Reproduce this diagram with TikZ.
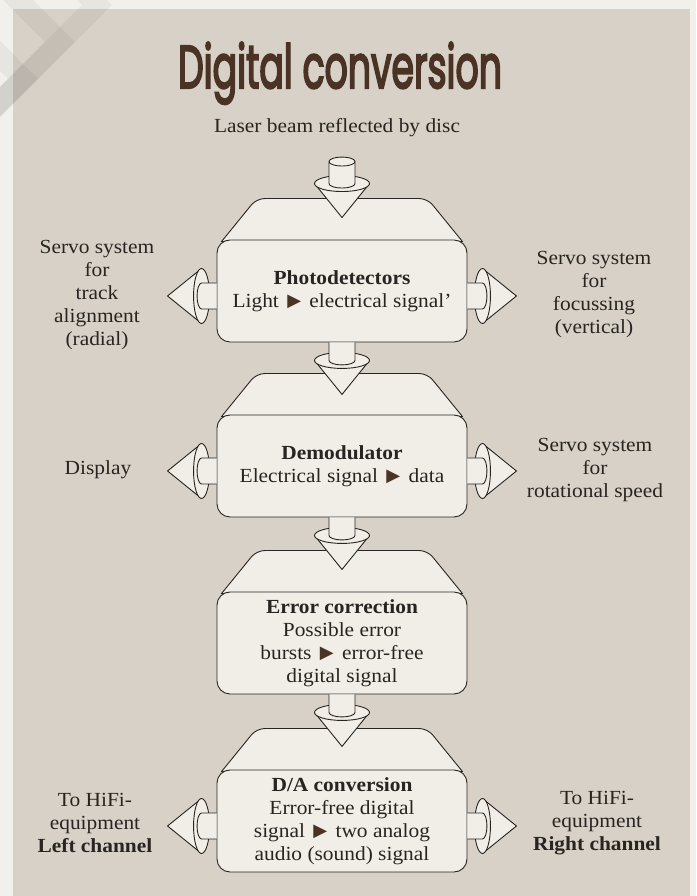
\documentclass[tikz,border=0pt]{standalone}
\usepackage{graphicx}
\usepackage{fontspec}
\setmainfont{Liberation Serif}[FakeStretch=1.07]
\newfontfamily\titlefont{Poppins}[FakeBold=4]
\newfontfamily\symfont{DejaVu Sans}
\usetikzlibrary{positioning, backgrounds}
\definecolor{pagegrey}{RGB}{242,240,235}
\definecolor{panelgrey}{RGB}{215,209,199}
\definecolor{cream}{RGB}{241,238,231}
\definecolor{ink}{RGB}{40,36,34}
\definecolor{titlebrown}{RGB}{74,50,36}
\newcommand{\tri}{\hspace*{3pt}{\symfont\color{titlebrown}\raisebox{0.5pt}{\scalebox{0.9}{▶}}}\hspace*{3pt}}

\begin{document}
\begin{tikzpicture}[x=1pt, y=1pt,
  part/.style={fill=cream, draw=ink, line width=0.9pt, line join=round},
  frontbox/.style={part, rounded corners=13pt, minimum width=250pt, minimum height=102pt, align=center, text=ink, font=\fontsize{20}{23}\selectfont},
  sidetext/.style={align=center, text=ink, font=\fontsize{20}{23}\selectfont},
  pics/cone/.style={code={
    \path[part] (-27.5,0) -- (0,-34) -- (27.5,0) -- cycle;
    \path[part] (0,0) ellipse [x radius=27.5, y radius=8];
    \path[part] (-13,#1) -- (-13,0) arc [start angle=180, end angle=360, x radius=13, y radius=4.5] -- (13,#1);
  }}
]
  \useasboundingbox (0,0) rectangle (696,896);

  % the four stages
  \node[frontbox] (photo) at (342,605) {\textbf{Photodetectors}\\Light \tri{} electrical signal'};
  \node[frontbox] (demod) at (342,430) {\textbf{Demodulator}\\Electrical signal \tri{} data};
  \node[frontbox] (errcorr) at (342,253) {\textbf{Error correction}\\Possible error\\bursts \tri{} error-free\\digital signal};
  \node[frontbox] (daconv) at (342,75) {\textbf{D/A conversion}\\Error-free digital\\signal \tri{} two analog\\audio (sound) signal};

  \begin{scope}[on background layer]
    \fill[pagegrey] (0,0) rectangle (696,896);
    \fill[panelgrey] (13,0) rectangle (690,887);
    \foreach \vx/\vy in {112/891, 75/854, 38/817}
      \fill[black, opacity=0.045] (\vx,\vy) -- (\vx-120,\vy+120) -- (\vx-150,\vy+120) -- (\vx-30,\vy) -- (\vx-150,\vy-120) -- (\vx-120,\vy-120) -- cycle;
    % top faces
    \foreach \b in {photo, demod, errcorr, daconv}
      \path[part] ([xshift=5,yshift=-2]\b.north west) [rounded corners=8pt] -- ([xshift=40,yshift=41]\b.north west) -- ([xshift=-40,yshift=41]\b.north east) [sharp corners] -- ([xshift=-5,yshift=-2]\b.north east) -- cycle;
  \end{scope}

  % connectors
  \pic at ([yshift=56]photo.north) {cone=22};
  \path[part] ([yshift=78]photo.north) ellipse [x radius=13, y radius=4.5];
  \pic at ([yshift=-18]photo.south) {cone=18};
  \pic at ([yshift=-18]demod.south) {cone=18};
  \pic at ([yshift=-18]errcorr.south) {cone=18};
  \foreach \b in {photo, demod, daconv} {
    \pic[rotate=-90] at ([xshift=-15,yshift=-5]\b.west) {cone=15};
    \pic[rotate=90] at ([xshift=15,yshift=-5]\b.east) {cone=15};
  }

  % labels
  \node[text=titlebrown, inner sep=0pt, anchor=north] (title) at (340,854) {\resizebox*{324pt}{62pt}{\titlefont Digital conversion}};
  \node[sidetext] (laser) at (337,768) {Laser beam reflected by disc};
  \node[sidetext] (track) at (97,601) {Servo system\\for\\track\\alignment\\(radial)};
  \node[sidetext] (focus) at (594,601) {Servo system\\for\\focussing\\(vertical)};
  \node[sidetext] (display) at (98,426) {Display};
  \node[sidetext] (speed) at (595,426) {Servo system\\for\\rotational speed};
  \node[sidetext] (hifil) at (95,73) {To HiFi-\\equipment\\\textbf{Left channel}};
  \node[sidetext] (hifir) at (597,73) {To HiFi-\\equipment\\\textbf{Right channel}};
\end{tikzpicture}
\end{document}
